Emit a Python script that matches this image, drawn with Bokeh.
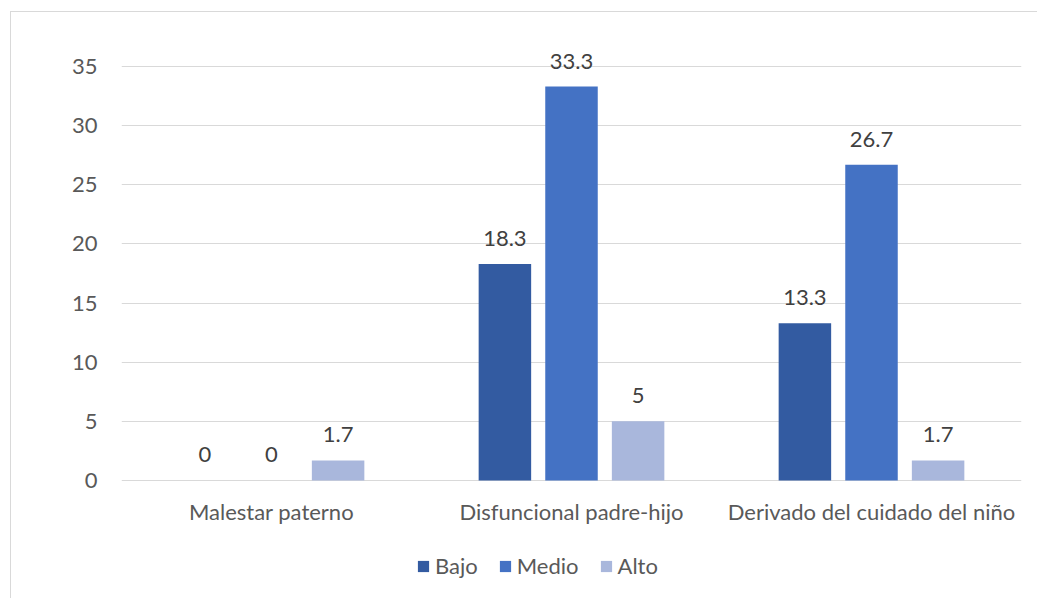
from bokeh.plotting import figure
from bokeh.models import ColumnDataSource, FixedTicker, LabelSet, Legend, LegendItem, Range1d
from bokeh.core.properties import value
from bokeh.embed import file_html
from bokeh.resources import INLINE

categories = ["Malestar paterno", "Disfuncional padre-hijo", "Derivado del cuidado del niño"]
series_names = ["Bajo", "Medio", "Alto"]
bajo = [0, 18.3, 13.3]
medio = [0, 33.3, 26.7]
alto = [1.7, 5, 1.7]
y_ticks = [0, 5, 10, 15, 20, 25, 30, 35]

colors = ["#335BA1", "#4472C4", "#A9B7DC"]
offsets = [-0.222, 0.0, 0.222]
bar_width = 0.175
FONT = "Lato"
FONT_SIZE = "22px"

# the frame runs down to the bottom edge so that category names and the
# legend sit inside it, under the zero line
p = figure(
    width=1027, height=587,
    x_range=Range1d(0, 3), y_range=Range1d(-10.06, 38.04),
    output_backend="svg", toolbar_location=None,
    min_border_left=110, min_border_right=17,
    min_border_top=18, min_border_bottom=0,
)
p.styles = {
    "margin-left": "10px", "margin-top": "11px",
    "border-left": "1px solid #d9d9d9", "border-top": "1px solid #d9d9d9",
}
p.outline_line_color = None
p.background_fill_color = "white"
p.border_fill_color = "white"

# horizontal grid lines only
p.xgrid.grid_line_color = None
p.ygrid.grid_line_color = "#d9d9d9"
p.ygrid.grid_line_width = 1
p.ygrid.ticker = FixedTicker(ticks=y_ticks)

# y axis
p.yaxis.ticker = FixedTicker(ticks=y_ticks)
p.yaxis.axis_line_color = None
p.yaxis.major_tick_line_color = None
p.yaxis.minor_tick_line_color = None
p.yaxis.major_tick_in = 0
p.yaxis.major_tick_out = 0
p.yaxis.major_label_standoff = 24
p.yaxis.major_label_text_font = FONT
p.yaxis.major_label_text_font_size = FONT_SIZE
p.yaxis.major_label_text_color = "#595959"

p.xaxis.visible = False

# category names centred under each group
centres = [i + 0.5 for i in range(len(categories))]
cat_src = ColumnDataSource(dict(x=centres, y=[0] * len(categories), name=categories))
p.add_layout(LabelSet(x="x", y="y", text="name", source=cat_src,
                      text_align="center", text_baseline="middle",
                      y_offset=-31, text_font=value(FONT),
                      text_font_size=value(FONT_SIZE), text_color="#595959"))

items = []
for name, vals, col, off in zip(series_names, [bajo, medio, alto], colors, offsets):
    src = ColumnDataSource(dict(
        x=[c + off for c in centres],
        top=vals,
        label=[f"{v:g}" for v in vals],
    ))
    r = p.vbar(x="x", top="top", width=bar_width, bottom=0, source=src,
               fill_color=col, line_color=None)
    items.append(LegendItem(label=name, renderers=[r]))
    p.add_layout(LabelSet(x="x", y="top", text="label", source=src,
                          text_align="center", text_baseline="alphabetic",
                          y_offset=18, text_font=value(FONT),
                          text_font_size=value(FONT_SIZE),
                          text_color="#404040"))

legend = Legend(
    items=items, orientation="horizontal", location=(295, 20),
    padding=0, margin=0, spacing=20, label_standoff=5,
    glyph_width=14, glyph_height=14, label_height=20,
    border_line_color=None, background_fill_alpha=0,
    label_text_font=FONT, label_text_font_size=FONT_SIZE,
    label_text_color="#595959",
)
p.add_layout(legend)

open("out.html", "w").write(file_html(p, INLINE))
